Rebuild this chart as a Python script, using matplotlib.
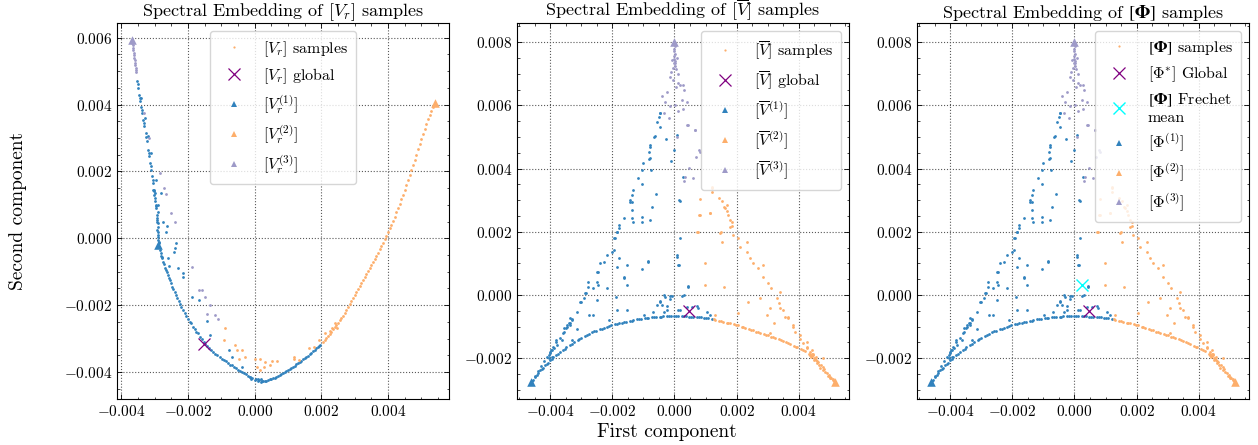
import matplotlib
matplotlib.use("Agg")
import matplotlib.pyplot as plt
from matplotlib.lines import Line2D
from matplotlib.ticker import MultipleLocator, AutoMinorLocator
import numpy as np

plt.rcParams.update({
    'font.family': 'serif', 'font.serif': ['cmr10'], 'mathtext.fontset': 'cm',
    'axes.formatter.use_mathtext': True, 'axes.unicode_minus': True,
    'xtick.direction': 'in', 'ytick.direction': 'in',
    'xtick.top': True, 'ytick.right': True,
    'xtick.minor.visible': True, 'ytick.minor.visible': True,
    'xtick.major.size': 3.5, 'ytick.major.size': 3.5,
    'xtick.minor.size': 1.8, 'ytick.minor.size': 1.8,
    'xtick.major.width': 0.6, 'ytick.major.width': 0.6,
    'xtick.minor.width': 0.5, 'ytick.minor.width': 0.5,
    'axes.linewidth': 0.8, 'xtick.labelsize': 11, 'ytick.labelsize': 11,
})

BLUE = '#3182bd'
ORANGE = '#fdae6b'
PURPLE = '#9e9ac8'
SCALE = 1e-3  # values below are in units of 1e-3

# ---------------- Panel 1 data: [V_r] ----------------
p1_blue = [
    (-3.53, 4.70), (-3.50, 4.50), (-3.47, 4.30), (-3.44, 4.10), (-3.41, 3.92), (-3.38, 3.75),
    (-3.35, 3.55), (-3.31, 3.35), (-3.27, 3.15), (-3.23, 2.90), (-3.19, 2.65), (-3.16, 2.45),
    (-3.13, 2.25), (-3.11, 2.05), (-3.08, 1.85), (-3.05, 1.65), (-3.03, 1.45), (-3.01, 1.30),
    (-2.99, 1.10), (-2.96, 0.90), (-2.94, 0.70), (-2.92, 0.50), (-2.91, 0.35), (-2.90, 0.20),
    (-2.89, 0.05), (-2.88, -0.10), (-2.86, -0.25), (-2.82, -0.45), (-2.77, -0.60), (-2.72, -0.78),
    (-2.66, -0.95), (-2.60, -1.10), (-2.54, -1.25), (-2.47, -1.45), (-2.40, -1.62), (-2.32, -1.80),
    (-2.24, -1.97), (-2.15, -2.15), (-2.05, -2.32), (-1.95, -2.50), (-1.85, -2.65), (-1.75, -2.80),
    (-1.64, -2.95), (-1.53, -3.10), (-1.42, -3.22), (-1.30, -3.34), (-1.18, -3.45), (-1.05, -3.55),
    (-0.92, -3.64), (-0.80, -3.72), (-0.68, -3.80), (-0.56, -3.88), (-0.44, -3.96), (-0.32, -4.04),
    (-0.20, -4.11), (-0.08, -4.17), (0.04, -4.21), (0.14, -4.25), (0.22, -4.27), (0.30, -4.26),
    (0.40, -4.24), (0.50, -4.21), (0.60, -4.17), (0.70, -4.12), (0.80, -4.07), (0.90, -4.00),
    (1.00, -3.94), (1.10, -3.87), (1.20, -3.81), (1.30, -3.73), (1.40, -3.66), (1.50, -3.59),
    (1.60, -3.51), (1.70, -3.42), (1.80, -3.33), (1.90, -3.25), (1.97, -3.19),
    (-3.00, 1.35), (-2.98, 1.20), (-2.95, 0.95), (-2.93, 0.60), (-2.91, 0.45), (-2.92, 0.25),
    (-2.90, 0.10), (-2.89, -0.05), (-2.87, -0.15), (-2.84, -0.35), (-2.80, -0.52), (-2.74, -0.70),
    (-2.69, -0.88), (-2.57, -1.18), (-2.44, -1.52), (-2.28, -1.88), (-2.10, -2.25), (-1.90, -2.55),
    (-1.70, -2.85), (-1.48, -3.15), (-1.25, -3.40), (-0.98, -3.60), (-0.74, -3.78), (-0.50, -3.93),
    (-0.26, -4.07), (-0.10, -4.20), (0.00, -4.24), (0.10, -4.27), (0.18, -4.30), (0.26, -4.28),
    (0.35, -4.27), (0.10, -4.22), (-0.15, -4.15), (0.20, -4.22), (0.45, -4.22), (0.65, -4.15),
    (0.85, -4.04), (1.05, -3.90), (1.25, -3.77), (1.45, -3.62), (1.65, -3.47), (1.85, -3.29),
    (-3.06, 1.44), (-3.02, 1.40), (-2.81, 1.35), (-2.91, 1.00), (-2.89, 0.80), (-2.76, 0.50),
    (-2.63, 0.37), (-2.66, 0.20), (-2.36, -0.15), (-2.39, -0.30), (-2.42, -0.42), (-2.61, -0.60),
    (-2.31, -0.90), (-2.56, -0.82), (-2.16, -1.05), (-2.16, -1.15), (-1.87, -1.75), (-1.68, -1.85),
    (-1.43, -2.49), (-1.33, -2.89), (-0.78, -3.34), (-0.68, -3.54), (-0.38, -3.84), (-3.40, 4.20),
    (-3.30, 3.60), (-3.20, 3.05), (-3.10, 2.55), (-2.95, 1.75),
    (-3.51, 4.60), (-3.45, 4.20), (-3.39, 3.85), (-3.33, 3.45), (-3.25, 3.02), (-3.17, 2.55),
    (-3.12, 2.15), (-3.06, 1.75), (-2.97, 1.00), (-2.93, 0.55), (-2.79, -0.55), (-2.63, -1.02),
    (-2.50, -1.35), (-2.36, -1.71), (-2.20, -2.06), (-2.00, -2.41), (-1.80, -2.72), (-1.59, -3.02),
    (-1.36, -3.28), (-1.12, -3.50), (-0.86, -3.68), (-0.62, -3.84), (-0.38, -4.00), (-0.14, -4.14),
    (0.55, -4.19), (0.75, -4.10), (0.95, -3.97), (1.15, -3.84), (1.35, -3.70), (1.55, -3.55),
    (1.75, -3.38), (1.93, -3.22),
]
p1_orange = [
    (2.05, -3.10), (2.15, -2.98), (2.25, -2.86), (2.35, -2.73), (2.45, -2.60), (2.55, -2.46),
    (2.65, -2.32), (2.75, -2.15), (2.85, -1.98), (2.95, -1.80), (3.05, -1.62), (3.15, -1.43),
    (3.25, -1.25), (3.35, -1.07), (3.45, -0.88), (3.55, -0.70), (3.65, -0.52), (3.75, -0.33),
    (3.85, -0.13), (3.95, 0.07), (4.05, 0.30), (4.15, 0.52), (4.25, 0.78), (4.35, 1.03),
    (4.45, 1.30), (4.55, 1.58), (4.65, 1.88), (4.75, 2.18), (4.85, 2.50), (4.95, 2.82),
    (5.05, 3.12), (5.15, 3.42), (5.25, 3.70), (5.35, 3.92), (5.42, 4.05),
    (2.10, -3.04), (2.20, -2.92), (2.30, -2.80), (2.40, -2.67), (2.50, -2.53), (2.60, -2.39),
    (2.70, -2.24), (2.80, -2.07), (2.90, -1.89), (3.00, -1.71), (3.10, -1.52), (3.20, -1.34),
    (3.30, -1.16), (3.40, -0.97), (3.50, -0.79), (3.60, -0.61), (3.70, -0.43), (3.80, -0.23),
    (3.90, -0.03), (4.00, 0.18), (4.10, 0.41), (4.20, 0.65), (4.30, 0.90), (4.40, 1.16),
    (4.50, 1.44), (4.60, 1.73), (4.70, 2.03), (4.80, 2.34), (4.90, 2.66), (5.00, 2.97),
    (5.10, 3.27), (5.20, 3.56), (5.30, 3.82),
    (-0.88, -2.69), (-0.93, -3.04), (-0.58, -3.19), (-0.53, -3.34), (-0.38, -3.34), (-0.48, -3.62),
    (-0.28, -3.56), (0.02, -3.62), (0.17, -3.62), (0.32, -3.69), (0.52, -3.66), (0.67, -3.66),
    (0.07, -3.84), (0.27, -3.84), (0.47, -3.79), (0.17, -3.94), (1.17, -3.54), (1.17, -3.62),
    (1.32, -3.64), (1.62, -3.29), (1.77, -3.24), (1.92, -3.04), (2.12, -2.84), (2.27, -2.79),
    (2.32, -2.69), (2.42, -2.54), (2.47, -2.69),
]
p1_purple = [
    (-3.68, 5.92), (-3.67, 5.85), (-3.66, 5.78), (-3.65, 5.70), (-3.64, 5.62), (-3.63, 5.55),
    (-3.62, 5.47), (-3.61, 5.40), (-3.60, 5.33), (-3.59, 5.25), (-3.58, 5.18), (-3.57, 5.10),
    (-3.56, 5.04), (-3.55, 4.98),
    (-2.83, 1.94), (-2.71, 1.50), (-2.66, 1.32), (-2.51, 0.77), (-2.39, 0.50), (-1.89, -0.85),
    (-1.68, -1.55), (-1.58, -1.55), (-1.48, -1.77), (-1.33, -2.00), (-1.43, -2.27), (-1.18, -2.29),
    (-1.11, -2.42), (-3.33, 3.75), (-3.18, 3.00),
]
p1_vertices = {'blue': (-2.89, -0.20), 'orange': (5.40, 4.04), 'purple': (-3.68, 5.92)}
p1_global = (-1.53, -3.17)

# ---------------- Panel 2/3 data: [V bar] and [Phi] ----------------
p2_blue = [
    (-4.62, -2.78), (-4.55, -2.68), (-4.48, -2.58), (-4.40, -2.47), (-4.32, -2.38), (-4.24, -2.30),
    (-4.16, -2.22), (-4.08, -2.14), (-4.00, -2.06), (-3.90, -1.97), (-3.80, -1.89), (-3.70, -1.81),
    (-3.60, -1.74), (-3.48, -1.66), (-3.36, -1.58), (-3.24, -1.50), (-3.12, -1.43), (-3.00, -1.36),
    (-2.88, -1.30), (-2.76, -1.24), (-2.64, -1.18), (-2.52, -1.13), (-2.40, -1.08), (-2.28, -1.04),
    (-2.16, -1.00), (-2.04, -0.96), (-1.92, -0.93), (-1.80, -0.90), (-1.68, -0.87), (-1.56, -0.84),
    (-1.44, -0.82), (-1.32, -0.80), (-1.20, -0.77), (-1.08, -0.75), (-0.96, -0.73), (-0.84, -0.72),
    (-0.72, -0.70), (-0.60, -0.69), (-0.48, -0.68), (-0.36, -0.67), (-0.24, -0.67), (-0.12, -0.66),
    (0.00, -0.66), (0.12, -0.66), (0.24, -0.67), (0.36, -0.67), (0.48, -0.68), (0.60, -0.69),
    (0.72, -0.70), (0.84, -0.71), (0.96, -0.72), (1.08, -0.74), (1.20, -0.76),
    (-4.58, -2.73), (-4.44, -2.52), (-4.28, -2.34), (-4.12, -2.18), (-3.95, -2.01), (-3.75, -1.85),
    (-3.54, -1.70), (-3.30, -1.54), (-3.06, -1.40), (-2.82, -1.27), (-2.58, -1.15), (-2.34, -1.06),
    (-2.10, -0.98), (-1.86, -0.91), (-1.62, -0.85), (-1.38, -0.81), (-1.14, -0.76), (-0.90, -0.72),
    (-0.66, -0.70), (-0.42, -0.68), (-0.18, -0.66), (0.06, -0.66), (0.30, -0.67), (0.54, -0.68),
    (0.78, -0.70), (1.02, -0.73),
    (-4.50, -2.55), (-4.40, -2.40), (-4.30, -2.25), (-4.20, -2.10), (-4.10, -1.95), (-4.00, -1.82),
    (-3.90, -1.65), (-3.80, -1.50), (-3.70, -1.35), (-3.60, -1.20), (-3.50, -1.05), (-3.40, -0.90),
    (-3.30, -0.75), (-4.00, -1.79), (-3.36, -0.95), (-2.87, 0.05), (-2.50, 0.74), (-2.28, 1.05),
    (-1.86, 2.00), (-1.43, 2.95), (-1.05, 3.96), (-0.78, 4.69), (-0.46, 5.75),
    (-0.46, 5.77), (-0.51, 5.62), (-0.55, 5.49), (-0.48, 5.33), (-0.62, 5.03), (-0.65, 4.99),
    (-0.27, 4.95), (-0.78, 4.75), (-0.83, 4.54), (-0.78, 4.33), (-0.83, 4.32), (-1.00, 4.19),
    (-0.76, 3.96), (-1.16, 3.69), (-1.05, 3.53), (-1.32, 3.32), (-1.37, 3.17), (-1.43, 3.01),
    (-1.37, 2.93), (-0.59, 3.20), (-0.73, 2.80), (-1.37, 2.68), (-1.37, 2.43), (-1.05, 2.48),
    (-0.78, 2.37), (-1.05, 2.32), (-1.77, 2.22), (-1.80, 2.11), (-1.85, 2.00), (-1.90, 1.80),
    (0.18, 2.99), (-1.32, 2.32), (-1.64, 2.43), (-1.96, 1.79), (-2.18, 1.27), (-2.02, 1.37),
    (-1.80, 1.16), (-1.53, 0.95), (-1.64, 0.53), (-1.53, 0.32), (-2.18, 0.21), (-2.45, 0.32),
    (-2.77, 0.42), (-2.61, 0.21), (-3.03, -0.21), (-3.14, -0.53), (-3.36, -0.74), (-3.46, -0.95),
    (-3.57, -1.05), (-3.79, -1.58), (-3.95, -1.74), (-4.05, -2.00),
    (-3.02, -0.21), (-2.75, -0.63), (-2.61, -0.63), (-2.11, -0.79), (-1.84, -0.47), (-1.52, -0.47),
    (-1.63, 0.58), (-1.84, 0.90), (-1.95, 1.42), (-0.85, 1.05), (0.09, 1.21), (0.14, 0.95),
    (0.44, 0.28), (0.30, 0.00), (-0.07, -0.02), (-0.29, -0.05), (-1.87, -0.05), (-2.48, -0.15),
    (-0.45, -0.18), (-0.56, -0.32), (-0.69, -0.53), (-0.34, -0.53), (-0.98, -0.63), (-0.24, -0.35),
    (0.17, -0.47), (0.75, -0.42), (-2.79, 0.26), (-2.86, 0.05), (-2.91, -0.10), (-3.31, -0.79),
    (-3.35, -0.90), (-3.45, -1.00), (-3.56, -1.16), (-3.61, -1.42), (-3.13, -1.06), (-3.29, -1.42),
    (-3.83, -1.42), (-3.88, -1.69), (-3.99, -1.74), (-4.04, -1.90), (-3.93, -1.95),
    (-2.45, 0.74), (-2.39, 1.00), (-2.50, 0.42), (-1.05, 0.84), (-0.86, 1.08), (0.08, 1.27),
    (0.13, 0.95), (-0.46, -0.21), (-0.14, -0.11), (0.18, 1.79), (0.15, 3.00), (0.29, 3.74),
    (-0.11, 4.25), (-0.03, 4.59), (0.08, 5.06),
    (-0.35, 0.00), (-0.14, -0.03), (0.24, -0.03), (-0.40, -0.30), (-0.24, -0.47), (0.13, -0.47),
    (0.56, -0.37), (0.72, -0.35), (0.40, -0.39), (1.04, -0.53), (1.15, -0.63), (0.45, 0.26),
]
p2_orange = [
    (1.32, -0.78), (1.44, -0.81), (1.56, -0.84), (1.68, -0.87), (1.80, -0.90), (1.92, -0.93),
    (2.04, -0.96), (2.16, -1.00), (2.28, -1.04), (2.40, -1.08), (2.52, -1.12), (2.64, -1.16),
    (2.76, -1.20), (2.88, -1.24), (3.00, -1.28), (3.12, -1.32), (3.24, -1.36), (3.36, -1.40),
    (3.48, -1.45), (3.60, -1.50), (3.72, -1.55), (3.84, -1.60), (3.96, -1.66), (4.08, -1.72),
    (4.20, -1.78), (4.32, -1.86), (4.42, -1.93), (4.52, -2.02), (4.62, -2.12), (4.72, -2.22),
    (4.82, -2.34), (4.92, -2.46), (5.02, -2.58), (5.10, -2.67), (5.17, -2.75),
    (1.26, -0.77), (1.50, -0.82), (1.74, -0.88), (1.98, -0.95), (2.22, -1.02), (2.46, -1.10),
    (2.70, -1.18), (2.94, -1.26), (3.18, -1.34), (3.42, -1.43), (3.66, -1.53), (3.90, -1.63),
    (4.14, -1.75), (4.37, -1.89), (4.57, -2.07), (4.77, -2.28), (4.97, -2.52), (5.14, -2.71),
    (1.20, 3.38), (1.42, 3.06), (1.58, 2.80), (1.68, 2.65), (1.79, 2.37), (1.84, 2.20),
    (1.47, 1.95), (1.52, 1.69), (2.11, 1.53), (2.33, 1.37), (2.43, 1.16), (2.54, 1.00),
    (2.68, 0.85), (2.86, 0.58), (3.00, 0.37), (3.10, 0.21), (3.29, -0.10), (3.35, -0.26),
    (3.50, -0.47), (3.66, -0.69), (3.83, -0.95), (4.04, -1.27), (4.26, -1.64), (4.42, -1.85),
    (4.58, -2.16), (4.79, -2.37), (5.00, -2.64),
    (0.83, 3.03), (0.83, 2.53), (1.13, 2.60), (0.77, 2.00), (0.99, 1.00), (0.99, 0.32),
    (1.58, 0.26), (2.06, 1.80), (2.38, -0.21), (2.76, -0.10), (2.97, -0.63), (3.08, -0.42),
    (3.40, -0.42), (3.56, -0.70), (3.66, -0.74), (3.83, -1.00), (3.87, -1.16), (3.19, -0.90),
    (3.08, -1.21), (4.04, -1.38), (4.15, -1.53), (4.26, -1.69), (4.37, -1.79), (4.47, -1.90),
    (4.42, -1.74), (1.20, 3.43), (1.20, 3.27), (1.52, 2.99), (1.62, 2.74), (1.73, 2.53),
    (1.84, 2.32), (1.79, 2.16), (1.49, 2.00), (1.90, 1.90), (1.15, 2.61), (0.80, 2.53),
    (0.72, 2.00), (1.68, 2.85), (3.40, 0.10), (2.86, 0.95), (2.33, 1.69), (4.26, -1.48),
    (4.79, -2.00), (4.40, -1.95), (4.45, -1.85), (4.50, -2.00), (4.55, -1.95), (4.48, -2.05),
    (4.35, -1.90), (4.60, -2.10), (4.65, -2.20), (4.70, -2.30), (4.85, -2.45), (4.95, -2.55),
    (5.05, -2.62), (5.10, -2.70), (2.06, -0.58), (1.31, -0.62),
]
p2_purple = [
    (0.00, 8.02), (0.00, 7.95), (0.01, 7.88), (-0.01, 7.80), (0.00, 7.72), (0.02, 7.64),
    (-0.02, 7.56), (0.00, 7.48), (0.03, 7.40), (-0.03, 7.33), (0.01, 7.26), (-0.05, 7.20),
    (0.05, 7.15), (-0.08, 7.44), (0.03, 7.33), (-0.14, 6.91), (0.10, 7.00), (0.13, 6.70),
    (0.29, 6.65), (0.32, 6.49), (-0.24, 6.44), (-0.30, 6.12), (-0.14, 5.97), (0.03, 6.02),
    (0.13, 5.81), (-0.35, 5.75), (-0.19, 5.59), (0.24, 6.17), (0.40, 6.12), (0.43, 5.38),
    (0.08, 5.01), (0.67, 5.22), (0.80, 4.59), (0.69, 4.36), (0.47, 4.01), (0.34, 3.75),
    (0.59, 3.69), (0.30, 3.62), (0.83, 4.54), (0.66, 5.22), (0.40, 5.38), (0.29, 5.90),
    (0.18, 6.65), (0.08, 7.49), (-0.10, 7.05), (-0.06, 6.80), (0.06, 6.60), (-0.40, 6.30),
]
p2_vertices = {'blue': (-4.61, -2.76), 'orange': (5.17, -2.74), 'purple': (0.00, 8.02)}
p2_global = (0.48, -0.50)
p3_frechet = (0.24, 0.32)

titles = [r'Spectral Embedding of $[V_r]$ samples',
          r'Spectral Embedding of $[\overline{V}]$ samples',
          r'Spectral Embedding of $[\mathbf{\Phi}]$ samples']
labels1 = [r'$[V_r]$ samples', r'$[V_r]$ global', r'$[V_r^{(1)}]$', r'$[V_r^{(2)}]$', r'$[V_r^{(3)}]$']
labels2 = [r'$[\overline{V}]$ samples', r'$[\overline{V}]$ global', r'$[\overline{V}^{(1)}]$',
           r'$[\overline{V}^{(2)}]$', r'$[\overline{V}^{(3)}]$']
labels3 = [r'$[\mathbf{\Phi}]$ samples', r'$[\Phi^{*}]$ Global',
           '$[\\mathbf{\\Phi}]$ Frechet\nmean',
           r'$[\Phi^{(1)}]$', r'$[\Phi^{(2)}]$', r'$[\Phi^{(3)}]$']

xlims = [(-4.13, 5.83), (-5.07, 5.62), (-5.07, 5.62)]
ylims = [(-4.81, 6.44), (-3.29, 8.61), (-3.29, 8.61)]

fig = plt.figure(figsize=(12.58, 4.45), dpi=100)
lefts = [117 / 1258, 517 / 1258, 917 / 1258]
W, B, H = 332 / 1258, 1 - 399 / 445, 376 / 445
axes = [fig.add_axes([l, B, W, H]) for l in lefts]


def arr(pairs):
    a = np.array(pairs, dtype=float) * SCALE
    return a[:, 0], a[:, 1]


def draw(ax, blue, orange, purple, verts, glob, labels, frechet=None, loc='upper right'):
    for pts, col in ((blue, BLUE), (orange, ORANGE), (purple, PURPLE)):
        x, y = arr(pts)
        ax.scatter(x, y, s=4, color=col, linewidths=0, zorder=3)
    for key, col in (('blue', BLUE), ('orange', ORANGE), ('purple', PURPLE)):
        vx, vy = verts[key]
        ax.scatter([vx * SCALE], [vy * SCALE], marker='^', s=38, color=col, linewidths=0, zorder=4)
    ax.plot([glob[0] * SCALE], [glob[1] * SCALE], marker='x', color='purple', ms=8, mew=0.9,
            ls='none', zorder=5)
    if frechet is not None:
        ax.plot([frechet[0] * SCALE], [frechet[1] * SCALE], marker='x', color='cyan', ms=9,
                mew=1.0, ls='none', zorder=5)
    handles = [Line2D([], [], marker='o', ls='none', color=ORANGE, ms=1.6, mew=0),
               Line2D([], [], marker='x', ls='none', color='purple', ms=8, mew=0.9)]
    if frechet is not None:
        handles.append(Line2D([], [], marker='x', ls='none', color='cyan', ms=9, mew=1.0))
    for col in (BLUE, ORANGE, PURPLE):
        handles.append(Line2D([], [], marker='^', ls='none', color=col, ms=5, mew=0))
    leg = ax.legend(handles, labels, loc=loc, fontsize=11.5, labelspacing=0.47,
                    handletextpad=0.8, borderpad=0.5, framealpha=0.8, edgecolor='0.8')
    for t in leg.get_texts():
        if 'mathbf' in t.get_text():
            t.set_math_fontfamily('stix')
    return leg


draw(axes[0], p1_blue, p1_orange, p1_purple, p1_vertices, p1_global, labels1, loc='upper center')
draw(axes[1], p2_blue, p2_orange, p2_purple, p2_vertices, p2_global, labels2)
draw(axes[2], p2_blue, p2_orange, p2_purple, p2_vertices, p2_global, labels3, frechet=p3_frechet)

for i, ax in enumerate(axes):
    ax.set_xlim(xlims[i][0] * SCALE, xlims[i][1] * SCALE)
    ax.set_ylim(ylims[i][0] * SCALE, ylims[i][1] * SCALE)
    ax.xaxis.set_major_locator(MultipleLocator(0.002))
    ax.yaxis.set_major_locator(MultipleLocator(0.002))
    ax.xaxis.set_minor_locator(AutoMinorLocator(4))
    ax.yaxis.set_minor_locator(AutoMinorLocator(4))
    ax.grid(True, which='major', linestyle=':', color='0.35', linewidth=0.8)
    ax.set_axisbelow(True)
    t = ax.set_title(titles[i], fontsize=13, pad=3)
    if 'mathbf' in titles[i]:
        t.set_math_fontfamily('stix')

fig.text(18 / 1258, 1 - 211 / 445, 'Second component', rotation=90, ha='center', va='center',
         fontsize=14)
fig.text(667 / 1258, 1 - 432 / 445, 'First component', ha='center', va='center', fontsize=14)

fig.savefig('out.png', dpi=100)
